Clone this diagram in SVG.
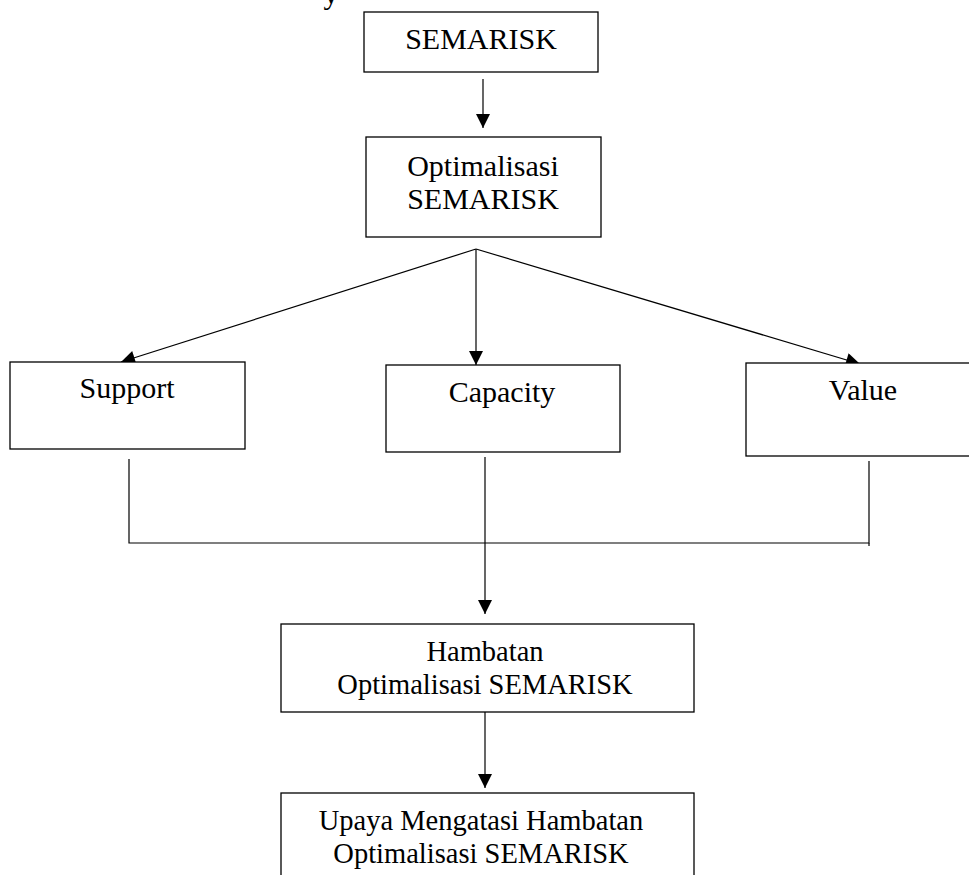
<svg xmlns="http://www.w3.org/2000/svg" width="969" height="875" viewBox="0 0 969 875">
<style>
.box{fill:#fff;stroke:#000;stroke-width:1.3}
.t{font-family:"Liberation Serif","Times New Roman",serif;font-size:30px;fill:#000;text-anchor:middle}
.s{font-size:28.5px}
.c{fill:none;stroke:#000;stroke-width:1.2}
.a{marker-end:url(#ah)}
</style>
<defs>
<marker id="ah" viewBox="0 0 10 10" refX="10" refY="5" markerUnits="userSpaceOnUse" markerWidth="15" markerHeight="14" orient="auto">
<path d="M0,0 L10,5 L0,10 Z" fill="#000"/>
</marker>
</defs>
<rect width="969" height="875" fill="#fff"/>
<text class="t" x="331" y="4">y</text>
<g id="connectors">
<line class="c a" x1="483" y1="79" x2="483" y2="128"/>
<line class="c a" x1="476" y1="249" x2="121" y2="362"/>
<line class="c a" x1="476" y1="249" x2="476" y2="365"/>
<line class="c a" x1="476" y1="249" x2="860" y2="364"/>
<polyline class="c" points="129,459 129,543 869,543 869,461"/>
<line class="c" x1="869" y1="543" x2="869" y2="546"/>
<line class="c a" x1="485" y1="457" x2="485" y2="614"/>
<line class="c a" x1="485" y1="712" x2="485" y2="788"/>
</g>
<g id="semarisk">
<rect class="box" x="364" y="12" width="234" height="60"/>
<text class="t" x="481" y="49">SEMARISK</text>
</g>
<g id="optimalisasi">
<rect class="box" x="366" y="137" width="235" height="100"/>
<text class="t" x="483" y="176">Optimalisasi</text>
<text class="t" x="483" y="209">SEMARISK</text>
</g>
<g id="support">
<rect class="box" x="10" y="362" width="235" height="87"/>
<text class="t" x="127" y="398">Support</text>
</g>
<g id="capacity">
<rect class="box" x="386" y="365" width="234" height="87"/>
<text class="t" x="502" y="402">Capacity</text>
</g>
<g id="value">
<rect class="box" x="746" y="363" width="240" height="93"/>
<text class="t" x="863" y="400">Value</text>
</g>
<g id="hambatan">
<rect class="box" x="281" y="624" width="413" height="88"/>
<text class="t s" x="485" y="661">Hambatan</text>
<text class="t s" x="485" y="694">Optimalisasi SEMARISK</text>
</g>
<g id="upaya">
<rect class="box" x="281" y="793" width="413" height="100"/>
<text class="t s" x="481" y="830">Upaya Mengatasi Hambatan</text>
<text class="t s" x="481" y="863">Optimalisasi SEMARISK</text>
</g>
</svg>
